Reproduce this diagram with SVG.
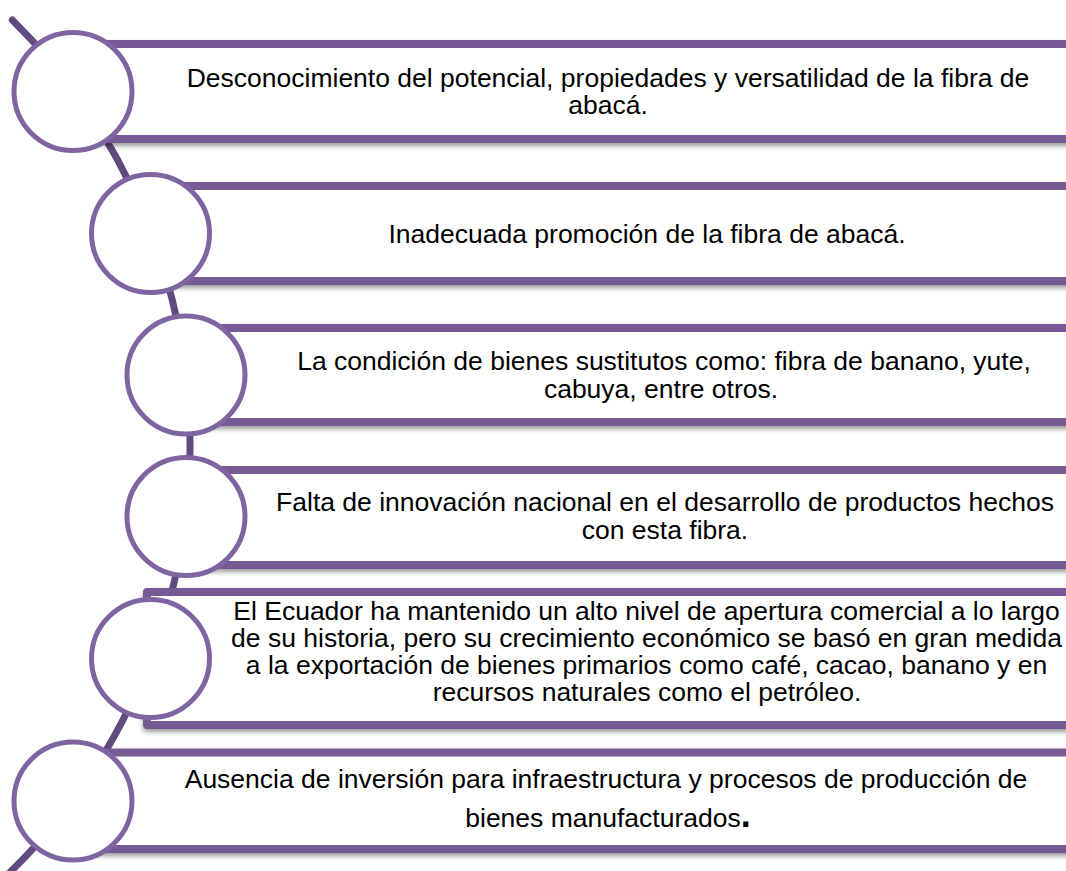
<svg xmlns="http://www.w3.org/2000/svg" width="1066" height="871" viewBox="0 0 1066 871">
<defs>
<filter id="sh" x="-5%" y="-20%" width="110%" height="150%">
<feDropShadow dx="0" dy="3" stdDeviation="2.5" flood-color="#000" flood-opacity="0.4"/>
</filter>
<style>
.box{fill:#fff;stroke:#745A94;stroke-width:8;stroke-linejoin:round;filter:url(#sh)}
.cir{fill:#fff;stroke:#8064A2;stroke-width:5}
.t{font-family:"Liberation Sans",Arial,sans-serif;font-size:26.5px;fill:#000;text-anchor:middle}
</style>
</defs>
<rect width="1066" height="871" fill="#fff"/>
<g id="connectors">
<path d="M 12.3 20 A 597 597 0 0 1 -9 890" fill="none" stroke="#604A7E" stroke-width="7" stroke-linecap="round"/>
</g>
<g id="node1">
<rect class="box" x="73" y="44" width="1010" height="95"/>
<circle class="cir" cx="73" cy="91.5" r="59"/>
<text class="t" y="87"><tspan x="608">Desconocimiento del potencial, propiedades y versatilidad de la fibra de</tspan><tspan x="608" y="114">abacá.</tspan></text>
</g>
<g id="node2">
<rect class="box" x="150" y="186" width="930" height="95"/>
<circle class="cir" cx="150.5" cy="233.5" r="59"/>
<text class="t" x="647" y="243">Inadecuada promoción de la fibra de abacá.</text>
</g>
<g id="node3">
<rect class="box" x="186" y="328" width="900" height="94"/>
<circle class="cir" cx="186" cy="375" r="59"/>
<text class="t" y="370"><tspan x="664">La condición de bienes sustitutos como: fibra de banano, yute,</tspan><tspan x="661" y="398">cabuya, entre otros.</tspan></text>
</g>
<g id="node4">
<rect class="box" x="186" y="470" width="900" height="95"/>
<circle class="cir" cx="186" cy="516.5" r="59"/>
<text class="t" y="511"><tspan x="665">Falta de innovación nacional en el desarrollo de productos hechos</tspan><tspan x="665" y="539">con esta fibra.</tspan></text>
</g>
<g id="node5">
<rect class="box" x="147" y="592" width="940" height="133"/>
<circle class="cir" cx="150.5" cy="658.5" r="59"/>
<text class="t" y="620"><tspan x="646.5">El Ecuador ha mantenido un alto nivel de apertura comercial a lo largo</tspan><tspan x="646.5" y="647">de su historia, pero su crecimiento económico se basó en gran medida</tspan><tspan x="646.5" y="674">a la exportación de bienes primarios como café, cacao, banano y en</tspan><tspan x="647" y="701">recursos naturales como el petróleo.</tspan></text>
</g>
<g id="node6">
<rect class="box" x="73" y="752.5" width="1010" height="96.5"/>
<circle class="cir" cx="73" cy="801" r="59"/>
<text class="t" y="788"><tspan x="606">Ausencia de inversión para infraestructura y procesos de producción de</tspan><tspan x="608" y="827">bienes manufacturados<tspan font-size="36" font-weight="bold">.</tspan></tspan></text>
</g>
</svg>
